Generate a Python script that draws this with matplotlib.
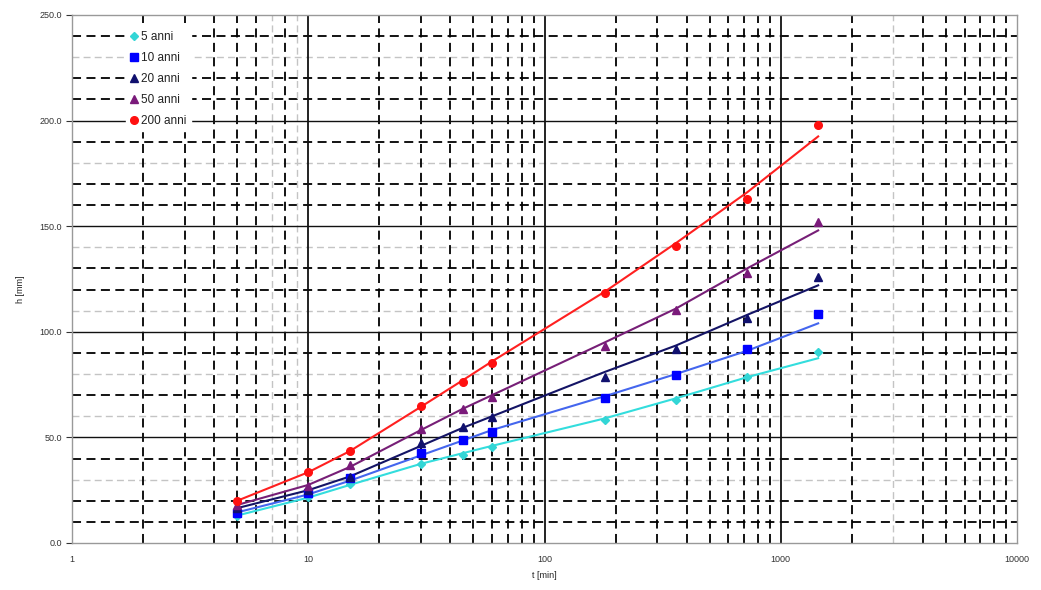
import matplotlib
matplotlib.use("Agg")
import matplotlib.pyplot as plt
from matplotlib.ticker import FixedLocator, FuncFormatter, NullLocator

plt.rcParams['font.family'] = ['Liberation Sans', 'DejaVu Sans']

# -----------------------------
# Data: durations [min] and rainfall heights [mm]
# -----------------------------
durations = [5, 10, 15, 30, 45, 60, 180, 360, 720, 1440]

# observed points (markers)
h_obs_5 = [12.8, 21.8, 27.9, 37.5, 41.7, 45.3, 58.2, 67.7, 78.8, 90.6]
h_obs_10 = [14.2, 23.5, 30.6, 42.8, 48.8, 52.7, 68.8, 79.5, 91.7, 108.4]
h_obs_20 = [16.6, 25.1, 31.4, 47.5, 55.1, 59.5, 78.8, 91.9, 106.4, 126.1]
h_obs_50 = [18.0, 27.0, 36.9, 53.8, 63.3, 69.3, 93.3, 110.3, 127.7, 152.1]
h_obs_200 = [20.0, 33.8, 43.7, 64.9, 76.4, 85.1, 118.2, 140.8, 162.7, 197.9]

# fitted curves (lines)
h_fit_5 = [13.0, 21.5, 27.5, 37.5, 42.5, 46.0, 59.0, 68.5, 78.5, 87.5]
h_fit_10 = [14.5, 23.0, 29.5, 41.5, 48.5, 53.5, 69.5, 80.0, 91.0, 104.0]
h_fit_20 = [16.5, 25.0, 31.5, 46.0, 54.5, 60.0, 81.0, 93.5, 108.0, 122.0]
h_fit_50 = [18.0, 27.5, 36.0, 53.5, 63.5, 70.0, 95.0, 111.0, 130.0, 148.0]
h_fit_200 = [20.0, 33.5, 43.5, 64.5, 77.0, 86.0, 119.0, 142.0, 166.0, 192.5]

series_labels = ['5 anni', '10 anni', '20 anni', '50 anni', '200 anni']

# -----------------------------
# Styles
# -----------------------------
MARKER_COLORS = ['#33d6d6', '#0000ff', '#10106e', '#7a1a7a', '#ff1010']
LINE_COLORS = ['#33dddd', '#4466ee', '#141466', '#771f77', '#ff2020']
MARKERS = ['D', 's', '^', '^', 'o']
MARKER_SIZES = [4.5, 5.5, 5.5, 5.5, 5.5]

# grid levels
y_minor = [v for v in range(10, 250, 10) if v % 50 != 0]
y_light = [30, 60, 80, 110, 140, 180, 230]
x_major = [1, 10, 100, 1000, 10000]
x_minor = [m * d for d in [1, 10, 100, 1000] for m in range(2, 10)]
x_light = [7, 9, 3000]

fig = plt.figure(figsize=(10.41, 5.90), dpi=100)
ax = fig.add_axes([72 / 1041, 47 / 590, 945 / 1041, 528 / 590])

ax.set_xscale('log')
ax.set_xlim(1, 10000)
ax.set_ylim(0, 250)

# grid lines
for v in y_minor:
    if v in y_light:
        ax.axhline(v, color='#c4c4c4', lw=1.0, dashes=(5, 3), zorder=1)
    else:
        ax.axhline(v, color='black', lw=1.3, dashes=(5, 3), zorder=1)
for v in x_minor:
    if v in x_light:
        ax.axvline(v, color='#c4c4c4', lw=1.0, dashes=(5, 3), zorder=1)
    else:
        ax.axvline(v, color='black', lw=1.3, dashes=(5, 3), zorder=1)
for v in [50, 100, 150, 200]:
    ax.axhline(v, color='#111111', lw=1.0, zorder=2)
for v in [10, 100, 1000]:
    ax.axvline(v, color='#111111', lw=1.3, zorder=2)

# series
obs_all = [h_obs_5, h_obs_10, h_obs_20, h_obs_50, h_obs_200]
fit_all = [h_fit_5, h_fit_10, h_fit_20, h_fit_50, h_fit_200]
for i, lab in enumerate(series_labels):
    ax.plot(durations, fit_all[i], color=LINE_COLORS[i], lw=1.5, zorder=3)
    ax.plot(durations, obs_all[i], linestyle='none', marker=MARKERS[i],
            ms=MARKER_SIZES[i], color=MARKER_COLORS[i], mec=MARKER_COLORS[i],
            label=lab, zorder=4)

# ticks
ax.xaxis.set_major_locator(FixedLocator(x_major))
ax.xaxis.set_minor_locator(NullLocator())
ax.xaxis.set_major_formatter(FuncFormatter(lambda v, p: f"{v:g}"))
ax.yaxis.set_major_locator(FixedLocator([0, 50, 100, 150, 200, 250]))
ax.yaxis.set_major_formatter(FuncFormatter(lambda v, p: f"{v:.1f}"))
ax.tick_params(axis='both', labelsize=6.5, colors='#333333', length=4,
               width=0.8, pad=3)
ax.tick_params(axis='x', length=0, pad=9)

for s in ax.spines.values():
    s.set_color('#999999')
    s.set_linewidth(1.0)
    s.set_zorder(2.5)

ax.set_xlabel('t [min]', fontsize=6.5, color='#222222', labelpad=5)
ax.set_ylabel('h [mm]', fontsize=6.5, color='#222222')
ax.yaxis.set_label_coords(-0.050, 0.48)

leg = ax.legend(loc='upper left', bbox_to_anchor=(0.057, 0.978),
                fontsize=8.5, frameon=True, fancybox=False,
                edgecolor='white', facecolor='white', framealpha=1,
                handlelength=0.6, handletextpad=0.3, labelspacing=0.75,
                borderpad=0.4, borderaxespad=0)
leg.set_zorder(5)
for t in leg.get_texts():
    t.set_color('#222222')

fig.savefig('out.png', dpi=100)
